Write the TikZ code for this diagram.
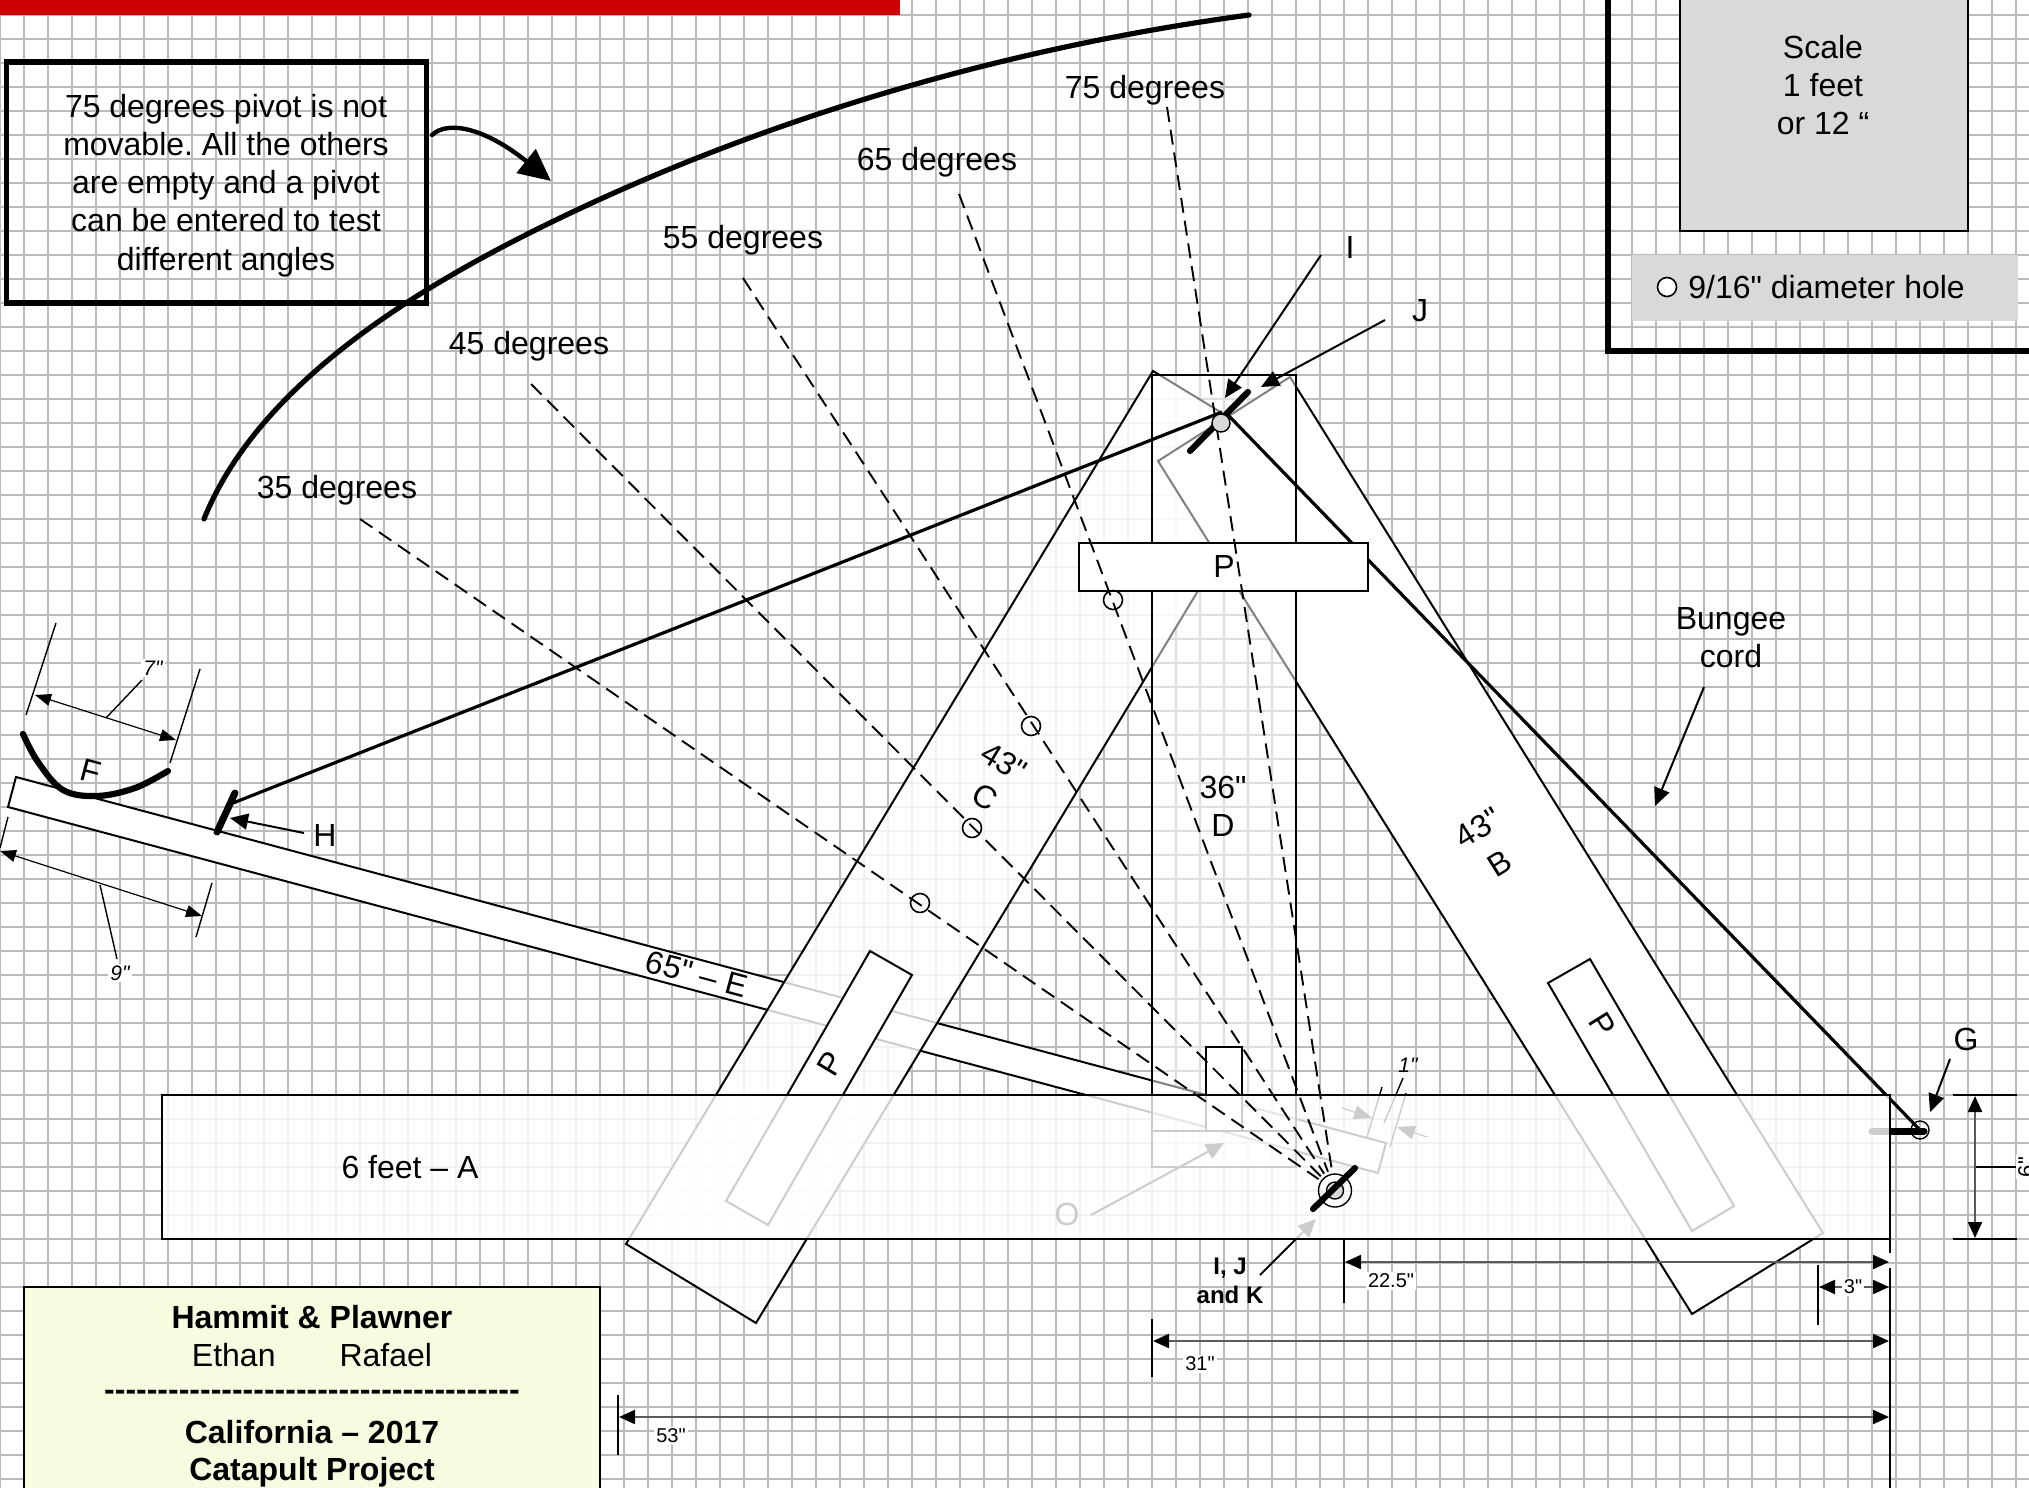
\documentclass[tikz,border=0pt]{standalone}
\usepackage{fontspec}
\setmainfont{Liberation Sans}[Ligatures=TeXOff]
\frenchspacing
\usetikzlibrary{arrows.meta,calc}
\definecolor{gridc}{RGB}{187,187,187}
\definecolor{panel}{RGB}{217,217,217}
\definecolor{title}{RGB}{247,251,224}
\definecolor{banner}{RGB}{204,0,0}
\definecolor{dimc}{RGB}{90,90,90}
\tikzset{
  lab/.style={font=\fontsize{16}{19.1}\selectfont,inner sep=0pt,align=center,text=black},
  midlab/.style={font=\fontsize{10}{12}\selectfont,inner sep=1pt,fill=white,text=black},
  itlab/.style={font=\fontsize{10.5}{12}\itshape\selectfont,inner sep=1pt,fill=white,text=black},
  boldlab/.style={font=\fontsize{16}{19}\bfseries\selectfont,inner sep=0pt,align=center},
  board/.style={draw=black,line width=1pt,fill=white},
  arr/.style={-{Triangle[length=9pt,width=8pt]},line width=1pt,draw=black},
  thinarr/.style={-{Triangle[length=9pt,width=7pt]},line width=.6pt,draw=black},
  dimline/.style={{Triangle[length=8pt,width=7pt,color=black]}-{Triangle[length=8pt,width=7pt,color=black]},line width=1.1pt,draw=dimc},
  thindim/.style={{Triangle[length=8pt,width=6pt]}-{Triangle[length=8pt,width=6pt]},line width=.6pt,draw=black},
  tick/.style={line width=1pt,draw=black},
  thintick/.style={line width=.7pt,draw=black},
  heavy/.style={line width=3.1pt,line cap=round,draw=black},
  cord/.style={line width=1.6pt,draw=black},
  angleline/.style={line width=.95pt,draw=black,dash pattern=on 7.5pt off 4pt},
  hole/.style={circle,draw=black,line width=.8pt,minimum size=9.5pt,inner sep=0pt},
}
\begin{document}
\begin{tikzpicture}[x=0.5pt,y=-0.5pt]
\clip (0,0) rectangle (2029,1488);
\fill[white] (0,0) rectangle (2029,1488);
% grid
\foreach \gx in {0,24,...,2040} \draw[gridc,line width=.9pt] (\gx,0) -- (\gx,1488);
\foreach \gy in {15,39,...,1500} \draw[gridc,line width=.9pt] (0,\gy) -- (2029,\gy);
% banner
\fill[banner] (0,0) rectangle (900,15);

% arm E
\draw[board] (16,777) -- (1386,1143) -- (1378,1173) -- (8,807) -- cycle;
% board C
\draw[board,fill opacity=.8] (1153,371) -- (1283,450) -- (756,1323) -- (626,1244) -- cycle;
\draw[board] (870,951) -- (912,975) -- (768,1225) -- (726,1201) -- cycle;
% board B
\draw[board] (1158,461) -- (1290,377) -- (1823,1233) -- (1692,1314) -- cycle;
\draw[board] (1548,983) -- (1590,959) -- (1734,1206) -- (1692,1231) -- cycle;
% board D
\draw[board,fill opacity=.5] (1152,375) rectangle (1296,1167);
\draw[board] (1206,1047) rectangle (1242,1131);
\draw[board] (1152,1131) -- (1296,1131);

% bungee and pin
\coordinate (toppiv) at (1221,423);
\coordinate (pinc) at (1920,1130);
\coordinate (armend) at (228,805);
\coordinate (armstart) at (1222,412);
\coordinate (cordstart) at (1228,415);
\draw[cord] (cordstart) -- (pinc);
\draw[line width=3.5pt,line cap=round,black] (1872,1131) -- (1924,1131);
\node[circle,draw=black,line width=.7pt,minimum size=9pt,inner sep=0pt] (pin) at (pinc) {};

% top pad
\draw[board] (1079,543) rectangle (1368,591);
\node[lab] (ptop) at (1224,566) {P};

% things below the base board
\node[lab] (olab) at (1067,1214) {O};
\coordinate (oarrow) at (1091,1215);
\coordinate (otip) at (1224,1143);
\draw[arr] (oarrow) -- (otip);
\coordinate (onea) at (1382,1087); \coordinate (oneb) at (1367,1137);
\coordinate (onec) at (1406,1093); \coordinate (oned) at (1390,1147);
\draw[thintick] (onea) -- (oneb);
\draw[thintick] (onec) -- (oned);
\coordinate (lead1a) at (1403,1078); \coordinate (lead1b) at (1384,1123);
\draw[thintick] (lead1a) -- (lead1b);
\coordinate (ar1a) at (1342,1108); \coordinate (ar1b) at (1372,1118);
\coordinate (ar2a) at (1427,1137); \coordinate (ar2b) at (1397,1127);
\draw[thinarr] (ar1a) -- (ar1b);
\draw[thinarr] (ar2a) -- (ar2b);
\coordinate (ijkfrom) at (1260,1275); \coordinate (ijktip) at (1316,1219);
\draw[arr] (ijkfrom) -- (ijktip);

% base board A
\draw[board,fill opacity=.8] (162,1095) rectangle (1890,1239);
\node[lab] (alab) at (410,1167) {6 feet – A};

% board labels
\node[lab,rotate=-31] (c43) at (1004,762) {43"};
\node[lab,rotate=-31] (clab) at (985,797) {C};
\node[lab,rotate=32] (b43) at (1478,828) {43"};
\node[lab,rotate=32] (blab) at (1500,863) {B};
\node[lab] (d36) at (1223,787) {36"};
\node[lab] (dlab) at (1223,825) {D};
\node[lab,rotate=-15] (elab) at (697,974) {65" – E};
\node[lab,rotate=59] (pc) at (831,1064) {P};
\node[lab,rotate=-58] (pb) at (1602,1025) {P};

% angle lines
\coordinate (piv) at (1335,1190.5);
\coordinate (d35) at (360,519);
\coordinate (d45) at (531,384);
\coordinate (d55) at (743,278);
\coordinate (d65) at (959,194);
\coordinate (d75) at (1167,107);
\foreach \nm in {d35,d45,d55,d65,d75}
  \draw[angleline] (\nm) -- ($(piv)!10pt!(\nm)$);
\node[hole] (h35) at (920,903) {};
\node[hole] (h45) at (972,828) {};
\node[hole] (h55) at (1031,726) {};
\node[hole] (h65) at (1113,600) {};
\node[lab] (l35) at (337,490) {35 degrees};
\node[lab] (l45) at (529,346) {45 degrees};
\node[lab] (l55) at (743,240) {55 degrees};
\node[lab] (l65) at (937,162) {65 degrees};
\node[lab] (l75) at (1145,90) {75 degrees};

% swept arc
\draw[heavy,line width=2.6pt] (204,519) .. controls (260,380) and (425,283) .. (560,218)
   .. controls (780,112) and (1019,46) .. (1249,15);

% note box
\node[draw=black,line width=2.7pt,minimum width=210pt,minimum height=120.5pt,inner sep=0pt] (note) at (216.5,182.5) {};
\node[lab] (notetxt) at (226,185.5) {75 degrees pivot is not\\movable. All the others\\are empty and a pivot\\can be entered to test\\different angles};
\coordinate (noteend) at (551,181);
\coordinate (notestart) at (432,135);
\draw[line width=2.2pt,line cap=round,-{Triangle[length=16pt,width=15pt]}] (notestart) .. controls (448,120) and (485,128) .. (noteend);

% pivots
\draw[cord] (armstart) -- (armend);
\coordinate (tb1) at (1190,451); \coordinate (tb2) at (1248,392);
\draw[heavy] (tb1) -- (tb2);
\node[circle,draw=black,line width=.7pt,fill=panel,minimum size=9pt,inner sep=0pt] (pivtop) at (toppiv) {};
\node[circle,draw=black,line width=.7pt,minimum size=16.5pt,inner sep=0pt] (pivout) at (piv) {};
\node[circle,draw=black,line width=.7pt,fill=panel,minimum size=8.5pt,inner sep=0pt] (pivin) at (piv) {};
\coordinate (bb1) at (1313,1209); \coordinate (bb2) at (1355,1168);
\draw[heavy] (bb1) -- (bb2);

\node[lab] (ilab) at (1350,247) {I};
\node[lab] (jlab) at (1420,311) {J};
\coordinate (ifrom) at (1321,255); \coordinate (itip) at (1225,398);
\coordinate (jfrom) at (1385,320); \coordinate (jtip) at (1261,387);
\draw[arr] (ifrom) -- (itip);
\draw[arr] (jfrom) -- (jtip);

\node[lab] (bung) at (1731,638) {Bungee\\cord};
\coordinate (bfrom) at (1704,687); \coordinate (btip) at (1655,806);
\draw[arr] (bfrom) -- (btip);

\node[lab] (glab) at (1966,1039) {G};
\coordinate (gfrom) at (1950,1059); \coordinate (gtip) at (1930,1112);
\draw[arr] (gfrom) -- (gtip);

% ladle F, stop H
\coordinate (fa) at (23,734);
\draw[heavy] plot[smooth,tension=.6] coordinates {(fa) (38,762) (63,790) (97,796) (135,788) (168,771)};
\node[lab,rotate=-15] (flab) at (91,771) {F};
\coordinate (h1) at (217,832); \coordinate (h2) at (235,793);
\draw[heavy,line width=3.5pt] (h1) -- (h2);
\node[lab] (hlab) at (325,835) {H};
\coordinate (hfrom) at (304,833); \coordinate (htip) at (230,818);
\draw[arr] (hfrom) -- (htip);

% 7 inch dim
\coordinate (s1) at (56,623); \coordinate (s2) at (26,715);
\coordinate (s3) at (200,669); \coordinate (s4) at (170,763);
\coordinate (s5) at (35,695); \coordinate (s6) at (176,740);
\coordinate (s7) at (142,680); \coordinate (s8) at (106,718);
\draw[thintick] (s1) -- (s2);
\draw[thintick] (s3) -- (s4);
\draw[thindim] (s5) -- (s6);
\draw[thintick] (s7) -- (s8);
\node[itlab] (l7) at (153,668) {7"};
% 9 inch dim
\coordinate (n1) at (8,817); \coordinate (n2) at (0,848);
\coordinate (n3) at (212,883); \coordinate (n4) at (196,937);
\coordinate (n5) at (0,851); \coordinate (n6) at (202,916);
\coordinate (n7) at (100,885); \coordinate (n8) at (117,959);
\draw[thintick] (n1) -- (n2);
\draw[thintick] (n3) -- (n4);
\draw[thindim] (n5) -- (n6);
\draw[thintick] (n7) -- (n8);
\node[itlab] (l9) at (120,973) {9"};
\node[itlab,fill=none] (l1) at (1408,1065) {1"};

% I, J and K label
\node[boldlab,font=\fontsize{12}{14.5}\bfseries\selectfont] (ijk) at (1230,1281) {I, J\\and K};

% right-hand dimensions
\coordinate (g1) at (1953,1095); \coordinate (g2) at (2017,1095);
\coordinate (g3) at (1953,1239); \coordinate (g4) at (2017,1239);
\draw[tick] (g1) -- (g2);
\draw[tick] (g3) -- (g4);
\coordinate (g5) at (1975,1096); \coordinate (g6) at (1975,1238);
\draw[dimline] (g5) -- (g6);
\coordinate (g7) at (1976,1167); \coordinate (g8) at (2016,1167);
\draw[tick] (g7) -- (g8);
\node[midlab,rotate=90,font=\fontsize{11}{12}\selectfont] (l6) at (2026,1167) {6"};

% base dimensions
\coordinate (ra) at (1890,1239); \coordinate (rb) at (1890,1253);
\coordinate (rc) at (1890,1268); \coordinate (rd) at (1890,1490);
\draw[tick] (ra) -- (rb);
\draw[tick] (rc) -- (rd);

\coordinate (t1) at (1344,1239); \coordinate (t2) at (1344,1303);
\draw[tick] (t1) -- (t2);
\coordinate (d1) at (1345,1262); \coordinate (d2) at (1889,1262);
\draw[dimline] (d1) -- (d2);
\node[midlab] (l225) at (1391,1281) {22.5"};

\coordinate (t3) at (1818,1265); \coordinate (t4) at (1818,1325);
\draw[tick] (t3) -- (t4);
\coordinate (d3) at (1819,1287); \coordinate (d4) at (1889,1287);
\draw[dimline] (d3) -- (d4);
\node[midlab] (l3) at (1853,1287) {3"};

\coordinate (t5) at (1152,1319); \coordinate (t6) at (1152,1377);
\draw[tick] (t5) -- (t6);
\coordinate (d5) at (1153,1341); \coordinate (d6) at (1889,1341);
\draw[dimline] (d5) -- (d6);
\node[midlab] (l31) at (1200,1364) {31"};

\coordinate (t7) at (618,1395); \coordinate (t8) at (618,1455);
\draw[tick] (t7) -- (t8);
\coordinate (d7) at (619,1417); \coordinate (d8) at (1889,1417);
\draw[dimline] (d7) -- (d8);
\node[midlab] (l53) at (671,1436) {53"};

% scale panel
\draw[line width=1pt,fill=panel] (1680,-10) rectangle (1968,231);
\node[lab] (scale) at (1823,85) {Scale\\1 feet\\or 12 “};
\fill[panel] (1632,255) rectangle (2018,321);
\node[circle,draw=black,line width=.8pt,fill=white,minimum size=9.5pt,inner sep=0pt] (legc) at (1667,287) {};
\node[lab,anchor=west] (legt) at (1688,287) {9/16" diameter hole};
\coordinate (la) at (1608,-10); \coordinate (lb) at (1608,351); \coordinate (lc) at (2040,351);
\draw[line width=2.6pt] (la) -- (lb) -- (lc);

% title block
\draw[line width=1pt,fill=title] (24,1287) rectangle (600,1500);
\node[boldlab] (t1l) at (312,1317) {Hammit \& Plawner};
\node[lab] (t2l) at (312,1355) {Ethan\hspace{32pt}Rafael};
\node[boldlab] (t3l) at (312,1395) {---------------------------------------};
\node[boldlab] (t4l) at (312,1432) {California – 2017};
\node[boldlab] (t5l) at (312,1472) {Catapult Project};
\end{tikzpicture}
\end{document}
